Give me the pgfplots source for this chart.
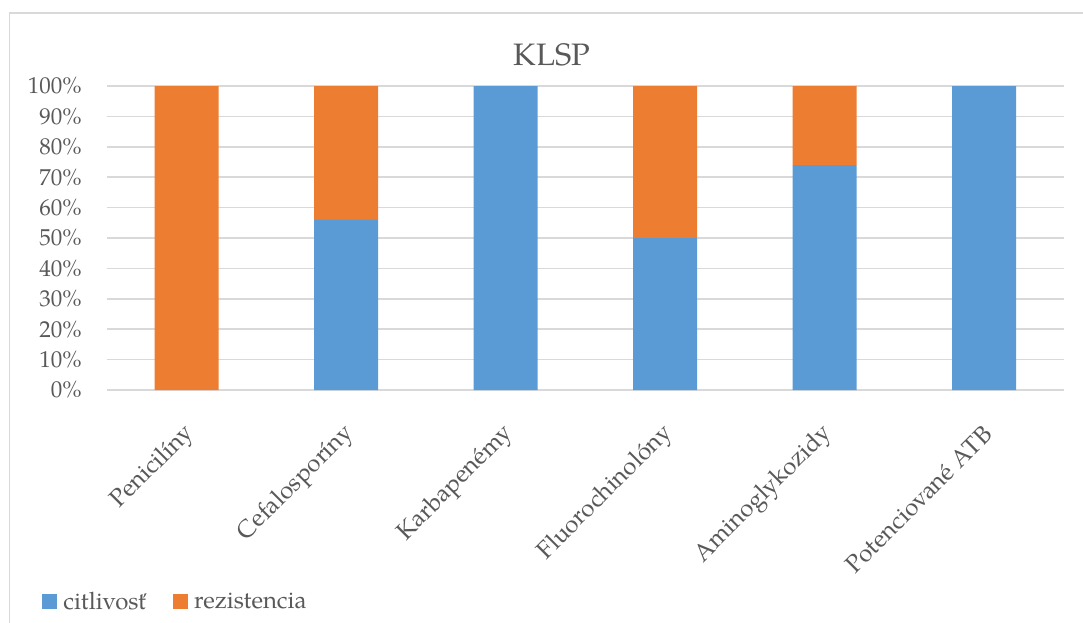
\documentclass[border=0pt]{standalone}
\usepackage{pgfplots}
\pgfplotsset{compat=1.18}
\usepackage{fontspec}
\setmainfont{TeX Gyre Pagella}

\definecolor{citlivost}{HTML}{5B9BD5}
\definecolor{rezistencia}{HTML}{ED7D31}
\definecolor{gridgray}{HTML}{D9D9D9}
\definecolor{labelgray}{HTML}{595959}

\begin{document}
\begin{tikzpicture}
  \useasboundingbox (0,0) rectangle (541.5pt,311pt);
  % chart frame (left and top edges)
  \draw[gridgray, line width=0.75pt] (4.75pt,-2pt) -- (4.75pt,304.5pt) -- (545pt,304.5pt);
  % chart title
  \node[font=\fontsize{15.5}{18}\selectfont, text=labelgray] at (276pt,283.5pt) {KLSP};
  \begin{axis}[
    at={(53.5pt,116pt)}, anchor=south west,
    scale only axis,
    width=478.5pt, height=152pt,
    ybar stacked,
    bar width=32pt,
    xmin=-0.5, xmax=5.5,
    ymin=0, ymax=100,
    axis line style={draw=none},
    major tick length=0pt,
    ymajorgrids,
    grid style={gridgray, line width=0.75pt},
    ytick={0,10,...,100},
    yticklabels={0\%,10\%,20\%,30\%,40\%,50\%,60\%,70\%,80\%,90\%,100\%},
    yticklabel style={font=\fontsize{11.5}{13}\selectfont, text=labelgray, inner sep=0pt, anchor=east, xshift=-12.5pt},
    xtick=data,
    xticklabels={Penicilíny, Cefalosporíny, Karbapenémy, Fluorochinolóny, Aminoglykozidy, Potenciované ATB},
    xticklabel style={font=\fontsize{12.2}{14}\selectfont, text=labelgray, inner sep=0pt, yshift=-20pt, xshift=2pt, rotate=45, anchor=east},
    legend columns=2,
    legend style={at={(axis description cs:-0.0679,-0.697)}, anchor=west, draw=none, inner sep=0pt,
      font=\fontsize{12}{14}\selectfont, text=labelgray,
      nodes={inner sep=0pt},
      /tikz/every odd column/.append style={column sep=3pt},
      /tikz/every even column/.append style={column sep=13.5pt}},
    legend image code/.code={\fill[#1] (0pt,-3.75pt) rectangle (7.5pt,3.75pt);},
  ]
    \addplot[fill=citlivost, draw=none] coordinates {(0,0) (1,56) (2,100) (3,50) (4,74) (5,100)};
    \addplot[fill=rezistencia, draw=none] coordinates {(0,100) (1,44) (2,0) (3,50) (4,26) (5,0)};
    \legend{citlivosť, rezistencia}
  \end{axis}
\end{tikzpicture}
\end{document}
